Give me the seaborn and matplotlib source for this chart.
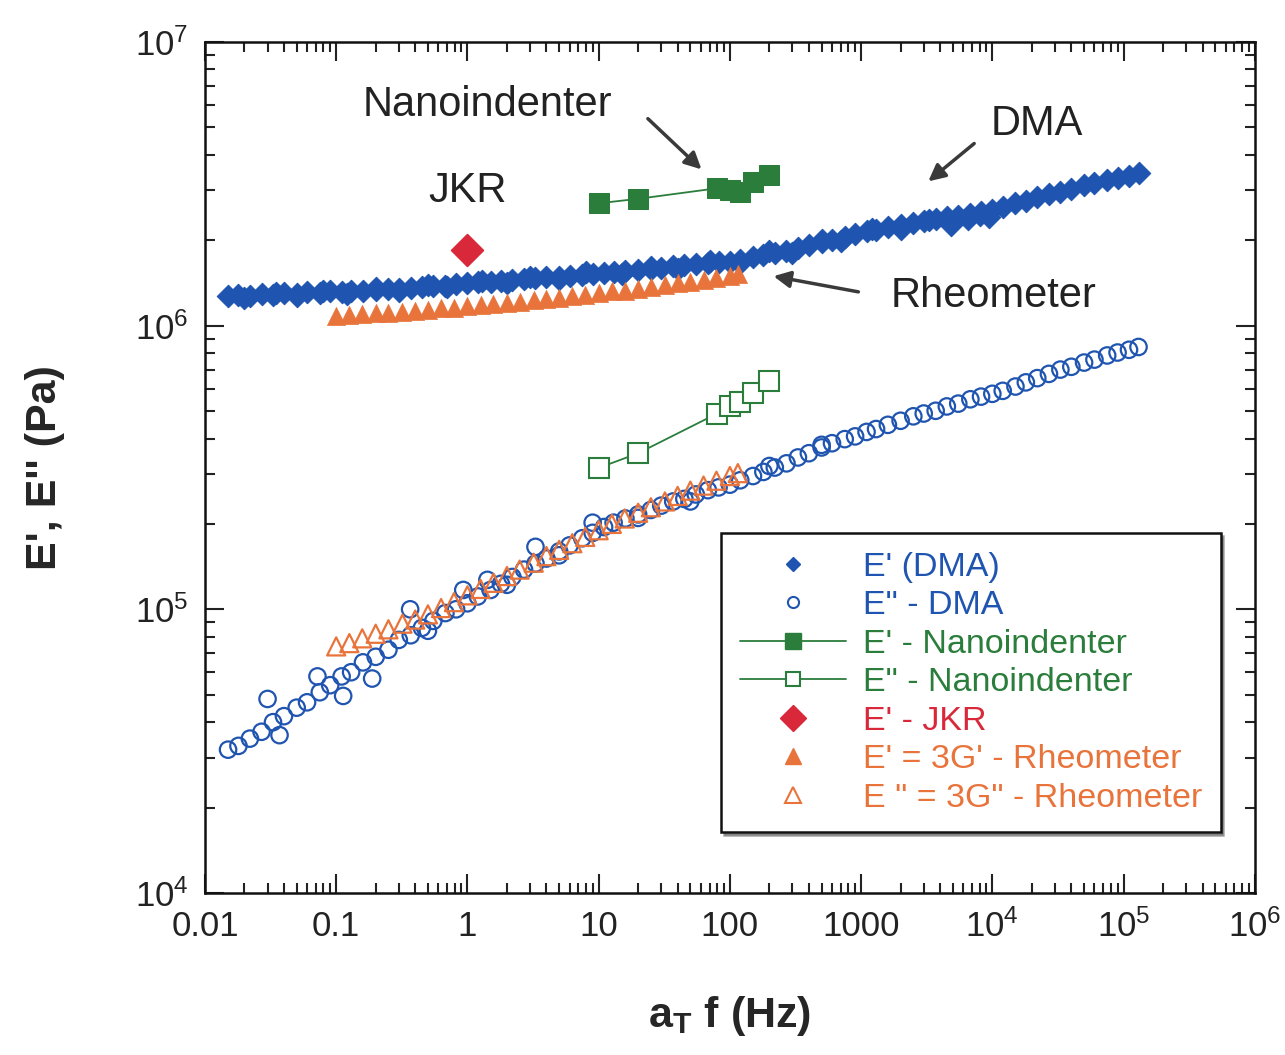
import numpy as np
import pandas as pd
import matplotlib
matplotlib.use('Agg')
import matplotlib.pyplot as plt
import seaborn as sns
from matplotlib.lines import Line2D
from matplotlib.ticker import FixedLocator, LogLocator, NullFormatter

sns.set_style('ticks')
plt.rcParams['font.family'] = ['Liberation Sans', 'DejaVu Sans']
plt.rcParams['mathtext.fontset'] = 'custom'
plt.rcParams['mathtext.rm'] = 'Liberation Sans'
plt.rcParams['mathtext.bf'] = 'Liberation Sans:bold'
plt.rcParams['mathtext.it'] = 'Liberation Sans'

# --- DMA master curve ---
dma_f = [0.015, 0.018, 0.022, 0.027, 0.033, 0.04, 0.05, 0.06, 0.075, 0.09,
         0.11, 0.13, 0.16, 0.2, 0.25, 0.3, 0.37, 0.45, 0.55, 0.68,
         0.82, 1.0, 1.2, 1.5, 1.8, 2.2, 2.7, 3.3, 4.0, 5.0,
         6.0, 7.5, 9.0, 11, 13, 16, 20, 25, 30, 37,
         45, 55, 68, 82, 100, 120, 150, 180, 220, 270,
         330, 400, 500, 600, 750, 900, 1100, 1300, 1600, 2000,
         2500, 3000, 3700, 4500, 5500, 6800, 8200, 10000, 12000, 15000,
         18000, 22000, 27000, 33000, 40000, 50000, 60000, 75000, 90000, 110000,
         130000]
dma_e1 = [1.27, 1.28, 1.27, 1.29, 1.28, 1.30, 1.29, 1.31, 1.30, 1.32,
          1.31, 1.33, 1.33, 1.34, 1.35, 1.35, 1.36, 1.37, 1.38, 1.38,
          1.40, 1.41, 1.42, 1.43, 1.44, 1.45, 1.46, 1.47, 1.48, 1.49,
          1.50, 1.51, 1.52, 1.53, 1.54, 1.56, 1.57, 1.59, 1.60, 1.62,
          1.63, 1.65, 1.66, 1.67, 1.68, 1.71, 1.74, 1.77, 1.80, 1.84,
          1.88, 1.92, 1.97, 2.01, 2.06, 2.10, 2.15, 2.18, 2.22, 2.27,
          2.31, 2.34, 2.38, 2.41, 2.44, 2.48, 2.51, 2.55, 2.62, 2.70,
          2.76, 2.83, 2.90, 2.97, 3.04, 3.12, 3.18, 3.26, 3.32, 3.38,
          3.44]  # x 1e6 Pa
dma_e2 = [0.32, 0.33, 0.35, 0.37, 0.40, 0.42, 0.45, 0.47, 0.51, 0.54,
          0.58, 0.60, 0.65, 0.68, 0.72, 0.78, 0.81, 0.86, 0.91, 0.97,
          1.00, 1.05, 1.11, 1.17, 1.23, 1.30, 1.38, 1.45, 1.51, 1.60,
          1.68, 1.78, 1.86, 1.95, 2.02, 2.09, 2.16, 2.24, 2.32, 2.40,
          2.45, 2.54, 2.63, 2.69, 2.75, 2.85, 2.95, 3.05, 3.16, 3.27,
          3.43, 3.55, 3.72, 3.85, 3.98, 4.07, 4.22, 4.32, 4.47, 4.62,
          4.79, 4.90, 5.01, 5.19, 5.31, 5.50, 5.62, 5.75, 5.89, 6.10,
          6.31, 6.53, 6.76, 7.00, 7.16, 7.41, 7.59, 7.85, 8.04, 8.22,
          8.41]  # x 1e5 Pa

# overlapping temperature segments (scatter around the master curve)
dma_e1_extra_f = [0.02, 0.035, 0.05, 0.08, 0.12, 0.2, 0.3, 0.5, 0.7, 1.3,
                  2, 3, 5, 8, 15, 25, 40, 70, 120, 200,
                  300, 500, 700, 1200, 2000, 3300, 4800, 6500, 8000, 9500]
dma_e1_extra = [1.25, 1.30, 1.27, 1.32, 1.29, 1.36, 1.33, 1.39, 1.37, 1.44,
                1.41, 1.49, 1.46, 1.54, 1.52, 1.61, 1.58, 1.69, 1.66, 1.83,
                1.80, 2.00, 1.98, 2.20, 2.20, 2.36, 2.26, 2.38, 2.45, 2.42]
dma_e2_extra_f = [0.030, 0.072, 0.366, 0.93, 1.42, 3.3, 9.0, 0.037, 0.188, 0.113,
                  0.5, 2.0, 5.0, 20, 50, 200, 500]
dma_e2_extra = [0.483, 0.58, 1.0, 1.17, 1.27, 1.66, 2.02, 0.36, 0.57, 0.495,
                0.84, 1.22, 1.55, 2.10, 2.40, 3.20, 3.80]

# --- Nanoindenter ---
nano_f = [10, 20, 80, 100, 120, 150, 200]
nano_e1 = [2.70, 2.80, 3.05, 3.00, 2.95, 3.20, 3.40]  # x 1e6
nano_e2 = [3.15, 3.55, 4.90, 5.20, 5.40, 5.80, 6.40]  # x 1e5

# --- JKR ---
jkr_f = [1.0]
jkr_e1 = [1.85]  # x 1e6

# --- Rheometer (E = 3G) ---
rheo_f = [0.1, 0.126, 0.158, 0.2, 0.25, 0.32, 0.4, 0.5, 0.63, 0.79,
          1.0, 1.26, 1.58, 2.0, 2.5, 3.2, 4.0, 5.0, 6.3, 7.9,
          10, 12.6, 15.8, 20, 25, 32, 40, 50, 63, 79,
          100, 115]
rheo_e1 = [1.08, 1.09, 1.10, 1.11, 1.11, 1.12, 1.13, 1.14, 1.15, 1.15,
           1.17, 1.18, 1.19, 1.20, 1.21, 1.23, 1.24, 1.25, 1.27, 1.28,
           1.30, 1.32, 1.33, 1.35, 1.37, 1.39, 1.41, 1.43, 1.45, 1.47,
           1.50, 1.52]  # x 1e6
rheo_e2 = [0.74, 0.76, 0.79, 0.82, 0.85, 0.89, 0.92, 0.96, 1.01, 1.06,
           1.12, 1.18, 1.24, 1.31, 1.38, 1.46, 1.54, 1.62, 1.71, 1.80,
           1.90, 2.00, 2.09, 2.19, 2.29, 2.40, 2.51, 2.62, 2.73, 2.84,
           2.95, 3.02]  # x 1e5

x_ticks = [0.01, 0.1, 1, 10, 100, 1000, 1e4, 1e5, 1e6]
x_tick_labels = ['0.01', '0.1', '1', '10', '100', '1000',
                 '10$^{4}$', '10$^{5}$', '10$^{6}$']
y_ticks = [1e4, 1e5, 1e6, 1e7]
y_tick_labels = ['10$^{4}$', '10$^{5}$', '10$^{6}$', '10$^{7}$']

blue = '#1f55b0'
green = '#2b7d3c'
red = '#d8283a'
orange = '#e8743b'

dma1 = pd.DataFrame({'f': dma_f + dma_e1_extra_f,
                     'E': np.array(dma_e1 + dma_e1_extra) * 1e6})
dma2 = pd.DataFrame({'f': dma_f + dma_e2_extra_f,
                     'E': np.array(dma_e2 + dma_e2_extra) * 1e5})
nano = pd.DataFrame({'f': nano_f, 'E1': np.array(nano_e1) * 1e6,
                     'E2': np.array(nano_e2) * 1e5})
rheo = pd.DataFrame({'f': rheo_f, 'E1': np.array(rheo_e1) * 1e6,
                     'E2': np.array(rheo_e2) * 1e5})

fig = plt.figure(figsize=(12.85, 10.55), dpi=100)
ax = fig.add_axes([0.1595, 0.1536, 0.817, 0.8066])
ax.set_xscale('log')
ax.set_yscale('log')

sns.scatterplot(data=dma2, x='f', y='E', marker='o', s=140, facecolors='none',
                edgecolor=blue, linewidth=1.6, ax=ax, zorder=3)
sns.scatterplot(data=rheo, x='f', y='E2', marker='^', s=170, facecolors='none',
                edgecolor=orange, linewidth=1.6, ax=ax, zorder=4)
sns.scatterplot(data=rheo, x='f', y='E1', marker='^', s=170, color=orange,
                edgecolor=orange, linewidth=0.5, ax=ax, zorder=4)
sns.scatterplot(data=dma1, x='f', y='E', marker='D', s=130, color=blue,
                edgecolor=blue, linewidth=0.8, ax=ax, zorder=3)
sns.lineplot(data=nano, x='f', y='E1', marker='s', markersize=15, color=green,
             mec=green, linewidth=1.3, estimator=None, sort=False, ax=ax, zorder=5)
sns.lineplot(data=nano, x='f', y='E2', marker='s', markersize=15, color=green,
             mfc='white', mec=green, mew=1.5, linewidth=1.3, estimator=None,
             sort=False, ax=ax, zorder=5)
sns.scatterplot(x=jkr_f, y=np.array(jkr_e1) * 1e6, marker='D', s=260, color=red,
                edgecolor=red, ax=ax, zorder=6)

ax.set_xlim(0.01, 1e6)
ax.set_ylim(1e4, 1e7)
ax.xaxis.set_major_locator(FixedLocator(x_ticks))
ax.set_xticklabels(x_tick_labels)
ax.yaxis.set_major_locator(FixedLocator(y_ticks))
ax.set_yticklabels(y_tick_labels)
ax.xaxis.set_minor_locator(LogLocator(base=10, subs=np.arange(2, 10), numticks=20))
ax.yaxis.set_minor_locator(LogLocator(base=10, subs=np.arange(2, 10), numticks=20))
ax.xaxis.set_minor_formatter(NullFormatter())
ax.yaxis.set_minor_formatter(NullFormatter())
ax.tick_params(which='both', direction='in', top=True, right=True, width=1.5,
               labelsize=25, colors='#222222')
ax.tick_params(which='major', length=14, pad=12)
ax.tick_params(which='minor', length=7)
for sp in ax.spines.values():
    sp.set_linewidth(1.8)
    sp.set_color('#111111')

ax.set_xlabel(r'$\mathbf{a_T}$ f (Hz)', fontsize=31, fontweight='bold', labelpad=36)
ax.set_ylabel("E', E'' (Pa)", fontsize=31, fontweight='bold', labelpad=50)

# annotations
arrow = dict(arrowstyle='-|>', color='#3a3a3a', lw=2.5, mutation_scale=25)
ax.text(1.42, 6.0e6, 'Nanoindenter', fontsize=30, ha='center', va='center', color='#222222')
ax.annotate('', xy=(63, 3.5e6), xytext=(22.9, 5.45e6), arrowprops=arrow)
ax.text(2.17e4, 5.15e6, 'DMA', fontsize=30, ha='center', va='center', color='#222222')
ax.annotate('', xy=(3.13e3, 3.18e6), xytext=(7.55e3, 4.45e6), arrowprops=arrow)
ax.text(1.0, 2.98e6, 'JKR', fontsize=30, ha='center', va='center', color='#222222')
ax.text(1.02e4, 1.27e6, 'Rheometer', fontsize=30, ha='center', va='center', color='#222222')
ax.annotate('', xy=(205, 1.5e6), xytext=(1000, 1.31e6), arrowprops=arrow)

# legend
handles = [
    Line2D([], [], ls='', marker='D', ms=7, color=blue),
    Line2D([], [], ls='', marker='o', ms=8, mfc='white', mec=blue, mew=1.5),
    Line2D([], [], ls='-', lw=1.3, marker='s', ms=12, color=green),
    Line2D([], [], ls='-', lw=1.3, marker='s', ms=10, mfc='white', mec=green, color=green, mew=1.5),
    Line2D([], [], ls='', marker='D', ms=13, color=red),
    Line2D([], [], ls='', marker='^', ms=11, color=orange),
    Line2D([], [], ls='', marker='^', ms=11, mfc='white', mec=orange, mew=1.5),
]
labels = ["E' (DMA)", 'E" - DMA', "E' - Nanoindenter", 'E" - Nanoindenter',
          "E' - JKR", "E' = 3G' - Rheometer", 'E " = 3G" - Rheometer']
text_colors = [blue, blue, green, green, red, orange, orange]
leg = ax.legend(handles, labels, loc='upper left', bbox_to_anchor=(0.492, 0.423),
                fontsize=24.5, frameon=True, fancybox=False, shadow=True,
                handlelength=3.1, handletextpad=0.5, labelspacing=0.22,
                borderpad=0.55, borderaxespad=0)
leg.get_frame().set_edgecolor('#111111')
leg.get_frame().set_linewidth(1.8)
for t, c in zip(leg.get_texts(), text_colors):
    t.set_color(c)

fig.savefig('out.png', dpi=100, facecolor='white')
